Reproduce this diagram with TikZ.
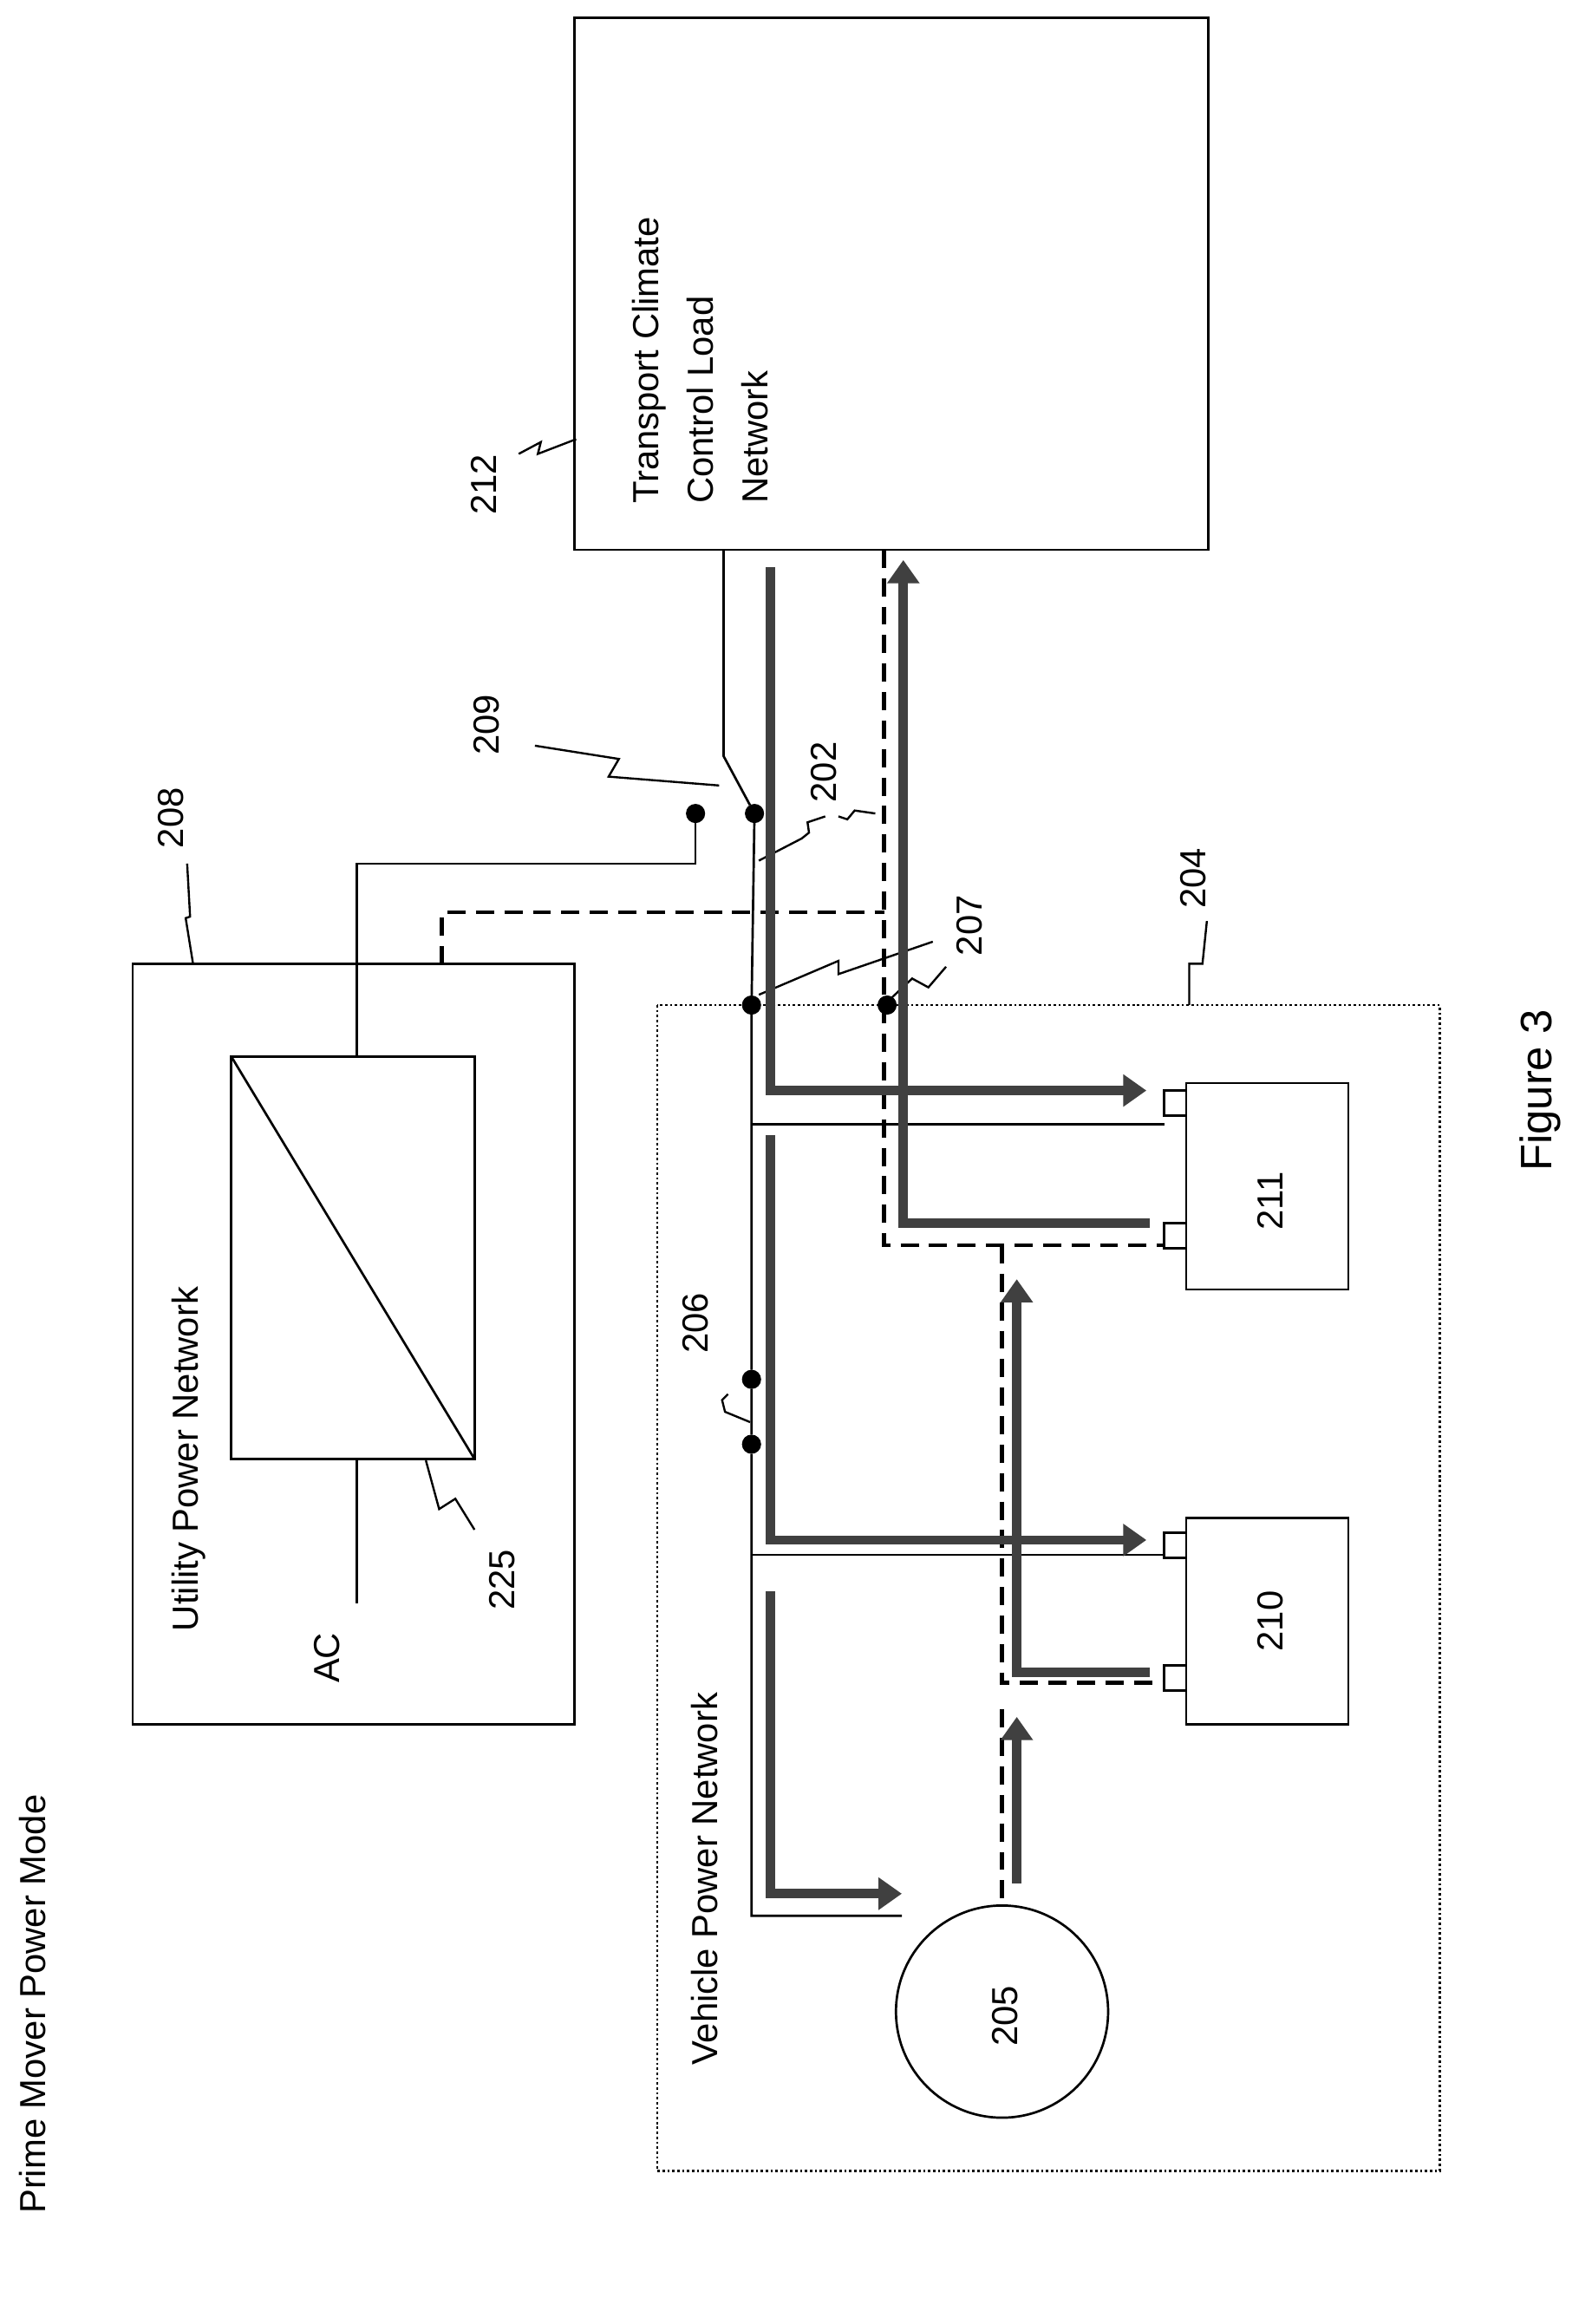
\documentclass[tikz,border=0pt]{standalone}
\usepackage{fontspec}
\setmainfont{Liberation Sans}
\usetikzlibrary{arrows.meta}
\begin{document}
\begin{tikzpicture}[x=0.02cm,y=-0.02cm,
  ln/.style={line width=0.9pt},
  dsh/.style={line width=1.6pt,dash pattern=on 7pt off 4pt},
  dot/.style={circle,fill=black,draw=black,inner sep=0pt,minimum size=7pt},
  txt/.style={rotate=90,font=\fontsize{14}{17}\selectfont},
  thk/.style={line width=3.6pt,black!75,-{Triangle[length=9pt,width=12pt]}},
  sq/.style={line width=0.8pt}]
\useasboundingbox (0,0) rectangle (1080,1577);
\node[txt] (title) at (22,1360) {Prime Mover Power Mode};
\node[txt,font=\fontsize{17}{20}\selectfont] (fig) at (1045,740) {Figure 3};
% utility
\draw[ln] (90,654) rectangle (390,1170);
\node[txt] (upn) at (128,990) {Utility Power Network};
\draw[ln] (157,717) rectangle (322,990);
\draw[ln] (157,717) -- (322,990);
\node[txt] (ac) at (222,1125) {AC};
\draw[ln] (242,990) -- (242,1088);
\node[txt] (l225) at (341,1072) {225};
\draw[sq] (289,991) -- (298,1024) -- (309,1017) -- (322,1038);
\node[txt] (l208) at (116,555) {208};
\draw[sq] (127,586) -- (129,622) -- (126,623) -- (131,654);
\node[dot] (d1) at (472,552) {};
\draw[ln] (242,717) -- (242,586) -- (472,586) -- (d1);
% 212
\draw[ln] (390,12) rectangle (820,373);
\node[txt,anchor=north west] (t1) at (423,348) {Transport Climate};
\node[txt,anchor=north west] (t2) at (460,348) {Control Load};
\node[txt,anchor=north west] (t3) at (497,348) {Network};
\node[txt] (l212) at (328,329) {212};
\draw[sq] (352,308) -- (367,300) -- (365,308) -- (391,298);
% vehicle
\draw[ln,densely dotted] (446,682) rectangle (977,1473);
\node[txt] (vpn) at (478,1275) {Vehicle Power Network};
\node[txt] (l204) at (810,596) {204};
\draw[sq] (819,625) -- (816,654) -- (807,654) -- (807,682);
% dashed
\draw[dsh] (300,654) -- (300,619) -- (600,619);
\draw[dsh] (600,373) -- (600,845) -- (790,845);
\draw[dsh] (680,845) -- (680,1142) -- (790,1142);
\draw[dsh] (680,1160) -- (680,1290);
% bus
\node[dot] (d2) at (512,552) {};
\node[dot] (d3) at (510,682) {};
\node[dot] (d4) at (602,682) {};
\node[dot] (d5) at (510,936) {};
\node[dot] (d6) at (510,980) {};
\draw[ln] (491,373) -- (491,513) -- (d2);
\draw[ln] (d2) -- (510,682) -- (d5) -- (d6) -- (510,1300) -- (612,1300);
\draw[ln] (510,763) -- (790,763);
\draw[ln] (510,1055) -- (790,1055);
\draw[sq] (509,965) -- (492,958) -- (490,950) -- (494,946);
\node[txt] (l206) at (472,898) {206};
\node[txt] (l209) at (330,492) {209};
\draw[sq] (363,506) -- (420,515) -- (413,527) -- (488,533);
\node[txt] (l202) at (559,524) {202};
\draw[sq] (515,584) -- (544,569) -- (549,565) -- (548,558) -- (560,554);
\draw[sq] (569,554) -- (575,556) -- (580,550) -- (594,552);
\node[txt] (l207) at (658,628) {207};
\draw[sq] (515,675) -- (569,652) -- (569,661) -- (633,639);
\draw[sq] (603,679) -- (619,664) -- (630,670) -- (642,656);
% components
\draw[ln] (805,735) rectangle (915,875);
\draw[ln] (790,740) rectangle (805,757);
\draw[ln] (790,830) rectangle (805,847);
\node[txt] (c211) at (862,815) {211};
\draw[ln] (805,1030) rectangle (915,1170);
\draw[ln] (790,1040) rectangle (805,1057);
\draw[ln] (790,1130) rectangle (805,1147);
\node[txt] (c210) at (862,1100) {210};
\node[circle,draw,line width=0.9pt,minimum size=2.88cm] (c205) at (680,1365) {};
\node[txt] (l205) at (682,1368) {205};
% thick arrows
\draw[thk] (523,385) -- (523,740) -- (778,740);
\draw[thk] (780,830) -- (613,830) -- (613,380);
\draw[thk] (523,770) -- (523,1045) -- (778,1045);
\draw[thk] (780,1135) -- (690,1135) -- (690,868);
\draw[thk] (523,1080) -- (523,1285) -- (612,1285);
\draw[thk] (690,1278) -- (690,1165);
\end{tikzpicture}
\end{document}
